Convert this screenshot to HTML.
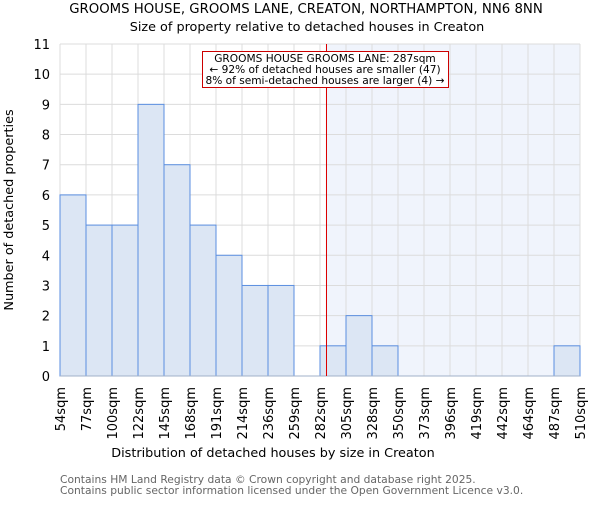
<!DOCTYPE html>
<html><head><meta charset="utf-8"><style>
body{margin:0;background:#fff}
svg text{font-family:"DejaVu Sans","Liberation Sans",sans-serif}
</style></head><body>
<svg id="c" width="600" height="500">
<text x="306" y="13" text-anchor="middle" font-size="13.3">GROOMS HOUSE, GROOMS LANE, CREATON, NORTHAMPTON, NN6 8NN</text>
<text x="307" y="31" text-anchor="middle" font-size="12.8">Size of property relative to detached houses in Creaton</text>
<g id="plot"></g>
<text x="273" y="457" text-anchor="middle" font-size="12.8">Distribution of detached houses by size in Creaton</text>
<text transform="translate(13,210) rotate(-90)" text-anchor="middle" font-size="12.8">Number of detached properties</text>
<text x="60" y="483" font-size="10.7" fill="#666">Contains HM Land Registry data © Crown copyright and database right 2025.</text>
<text x="60" y="494" font-size="10.7" fill="#666">Contains public sector information licensed under the Open Government Licence v3.0.</text>
</svg>
<script>
const binLabels=["54sqm","77sqm","100sqm","122sqm","145sqm","168sqm","191sqm","214sqm","236sqm","259sqm","282sqm","305sqm","328sqm","350sqm","373sqm","396sqm","419sqm","442sqm","464sqm","487sqm","510sqm"];
const binEdges=[54,77,100,122,145,168,191,214,236,259,282,305,328,350,373,396,419,442,464,487,510];
const counts=[6,5,5,9,7,5,4,3,3,0,1,2,1,0,0,0,0,0,0,1];
const yTicks=[0,1,2,3,4,5,6,7,8,9,10,11];
const propertySize=287;
const NS="http://www.w3.org/2000/svg";
const g=document.getElementById('plot');
const X0=60,X1=580,Y0=376,Y1=44,yMax=11;
const bw=(X1-X0)/counts.length;
const xi=i=>X0+i*bw;
const y=v=>Y0-(Y0-Y1)*v/yMax;
function xv(v){for(let i=0;i<binEdges.length-1;i++){if(v<=binEdges[i+1])return xi(i)+bw*(v-binEdges[i])/(binEdges[i+1]-binEdges[i]);}return X1;}
function mk(t,a,p){const e=document.createElementNS(NS,t);for(const k in a)e.setAttribute(k,a[k]);(p||g).appendChild(e);return e;}
const px=xv(propertySize);
const pxl=Math.round(px)+0.5;
let r=mk('rect',{x:px,y:Y1,width:X1-px,height:Y0-Y1,fill:'#f0f4fc'});


for(const t of yTicks){
 let l=mk('line',{x1:X0,x2:X1,y1:y(t),y2:y(t),stroke:'#dcdcdc','stroke-width':1});
 
 
 let tx=mk('text',{x:X0-10,y:y(t)+5,'text-anchor':'end','font-size':13});
 tx.textContent=t;
 
 
}
for(let i=0;i<binLabels.length;i++){
 let l=mk('line',{x1:xi(i),x2:xi(i),y1:Y1,y2:Y0,stroke:'#dcdcdc','stroke-width':1});
 
 
 let tx=mk('text',{transform:`translate(${xi(i)+5},${Y0+11}) rotate(-90)`,'text-anchor':'end','font-size':13});
 tx.textContent=binLabels[i];
 
 
}
counts.forEach((c,i)=>{
 if(c<=0)return;
 let b=mk('rect',{x:xi(i),y:y(c),width:bw,height:Y0-y(c),fill:'#dce6f4',stroke:'#5a8ee0','stroke-width':1});
 
 
});
let ax=mk('line',{x1:X0,x2:X1,y1:Y0,y2:Y0,stroke:'#a0b0c8','stroke-width':1});


let rl=mk('line',{x1:pxl,x2:pxl,y1:Y1,y2:Y0,stroke:'#dd0000','stroke-width':1});


let box=mk('rect',{x:202.5,y:51.5,width:246,height:36,fill:'#fff',stroke:'#cc0000','stroke-width':1});


const lines=["GROOMS HOUSE GROOMS LANE: 287sqm","← 92% of detached houses are smaller (47)","8% of semi-detached houses are larger (4) →"];
lines.forEach((s,i)=>{
 let t=mk('text',{x:325,y:62+i*11,'text-anchor':'middle','font-size':10.6});
 t.textContent=s;
 
 
});
</script>
</body></html>
